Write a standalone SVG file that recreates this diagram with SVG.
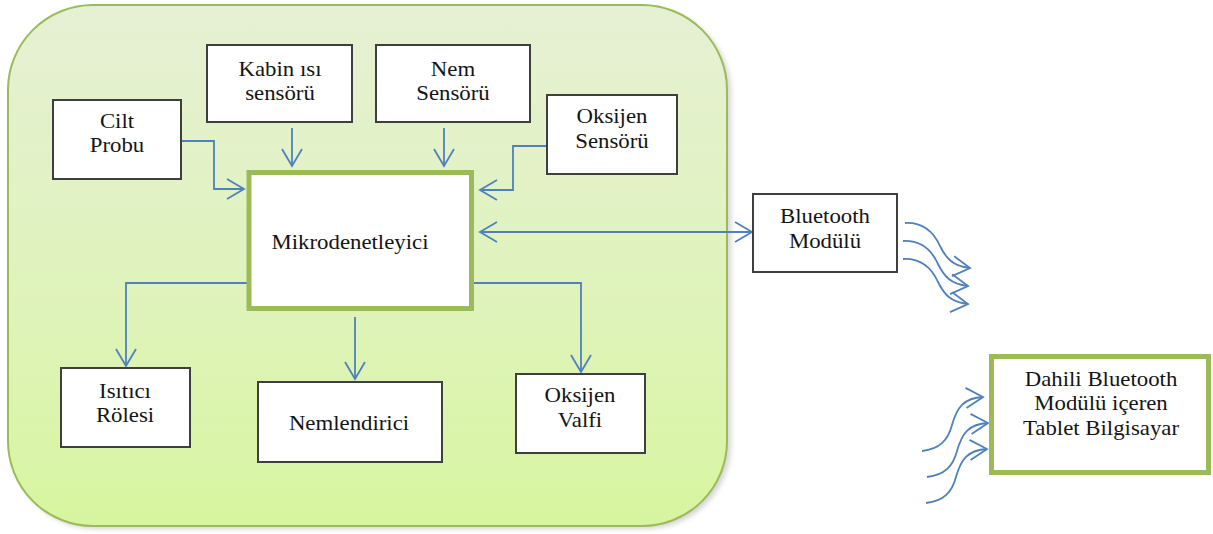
<svg xmlns="http://www.w3.org/2000/svg" width="1213" height="534" viewBox="0 0 1213 534">
  <defs>
    <linearGradient id="bg" x1="0" y1="0" x2="0" y2="1">
      <stop offset="0" stop-color="#e6f0d4"/>
      <stop offset="0.5" stop-color="#e0f3be"/>
      <stop offset="1" stop-color="#d7f5a0"/>
    </linearGradient>
    <filter id="shadow" x="-5%" y="-5%" width="110%" height="110%">
      <feGaussianBlur stdDeviation="2.5"/>
    </filter>
    <marker id="arr" markerUnits="userSpaceOnUse" viewBox="0 0 17 20" refX="17" refY="10" markerWidth="17" markerHeight="20" orient="auto-start-reverse" overflow="visible">
      <path d="M0,0 L17,10 L0,20" fill="none" stroke="#4f81bd" stroke-width="1.8" stroke-linejoin="miter"/>
    </marker>
    <style>
      .box { fill: #ffffff; stroke: #3f3f3f; stroke-width: 2; }
      .gbox { fill: #ffffff; stroke: #9bbb59; stroke-width: 5; }
      .lbl { font-family: "Liberation Serif", "Times New Roman", serif; font-size: 20px; fill: #141414; text-anchor: middle; }
      .con { fill: none; stroke: #4f81bd; stroke-width: 1.8; marker-end: url(#arr); }
      .wave { fill: none; stroke: #4f81bd; stroke-width: 1.8; marker-end: url(#arr); }
    </style>
  </defs>

  <g id="panel">
    <rect x="11" y="8" width="720" height="521" rx="85" ry="85" fill="#8a8a8a" opacity="0.35" filter="url(#shadow)"/>
    <rect x="8" y="5" width="719" height="521" rx="85" ry="85" fill="url(#bg)" stroke="#9bbb59" stroke-width="2"/>
  </g>

  <g id="connectors">
    <path class="con" d="M182,141 H214 V189 H244"/>
    <path class="con" d="M292,128 V166"/>
    <path class="con" d="M444,128 V166"/>
    <path class="con" d="M547,146 H513 V190 H480"/>
    <path class="con" d="M480,232 H752" marker-start="url(#arr)"/>
    <path class="con" d="M247,283 H126 V366"/>
    <path class="con" d="M355,317 V379"/>
    <path class="con" d="M474,283 H581 V372"/>
    <path class="wave" d="M905,223 C925,222 935,235 940,246 C946,258 952,266 970,268"/>
    <path class="wave" d="M903,241 C923,240 933,253 938,264 C944,276 950,284 968,286"/>
    <path class="wave" d="M903,259 C923,258 933,271 938,282 C944,294 950,302 968,304"/>
    <path class="wave" d="M922,451 C940,449 948,440 952,425 C957,407 964,398 983,397"/>
    <path class="wave" d="M927,477 C945,475 953,466 957,451 C962,433 969,424 988,423"/>
    <path class="wave" d="M926,503 C944,501 952,492 956,477 C961,459 968,450 987,449"/>
  </g>

  <g id="cilt-probu">
    <rect class="box" x="53" y="100" width="128" height="79"/>
    <text class="lbl" transform="translate(117,128) scale(1.14,1)"><tspan x="0" y="0">Cilt</tspan><tspan x="0" y="24">Probu</tspan></text>
  </g>
  <g id="kabin-isi">
    <rect class="box" x="207" y="45" width="145" height="77"/>
    <text class="lbl" transform="translate(280,76) scale(1.14,1)"><tspan x="0" y="0">Kabin ısı</tspan><tspan x="0" y="24">sensörü</tspan></text>
  </g>
  <g id="nem-sensoru">
    <rect class="box" x="376" y="45" width="154" height="77"/>
    <text class="lbl" transform="translate(453,76) scale(1.14,1)"><tspan x="0" y="0">Nem</tspan><tspan x="0" y="24">Sensörü</tspan></text>
  </g>
  <g id="oksijen-sensoru">
    <rect class="box" x="547" y="95" width="130" height="79"/>
    <text class="lbl" transform="translate(612,123) scale(1.14,1)"><tspan x="0" y="0">Oksijen</tspan><tspan x="0" y="25">Sensörü</tspan></text>
  </g>
  <g id="mikrodenetleyici">
    <rect class="gbox" x="249" y="172.5" width="222.5" height="136"/>
    <text class="lbl" transform="translate(350,249) scale(1.14,1)">Mikrodenetleyici</text>
  </g>
  <g id="isitici-rolesi">
    <rect class="box" x="61" y="368" width="129" height="79"/>
    <text class="lbl" transform="translate(125,398) scale(1.14,1)"><tspan x="0" y="0">Isıtıcı</tspan><tspan x="0" y="24">Rölesi</tspan></text>
  </g>
  <g id="nemlendirici">
    <rect class="box" x="258" y="382" width="184" height="80"/>
    <text class="lbl" transform="translate(349,430) scale(1.14,1)">Nemlendirici</text>
  </g>
  <g id="oksijen-valfi">
    <rect class="box" x="516" y="374" width="129" height="79"/>
    <text class="lbl" transform="translate(580,402) scale(1.14,1)"><tspan x="0" y="0">Oksijen</tspan><tspan x="0" y="25">Valfi</tspan></text>
  </g>
  <g id="bluetooth-modulu">
    <rect class="box" x="753" y="194" width="144" height="78" stroke="#555555"/>
    <text class="lbl" transform="translate(825,223) scale(1.14,1)"><tspan x="0" y="0">Bluetooth</tspan><tspan x="0" y="25">Modülü</tspan></text>
  </g>
  <g id="tablet">
    <rect class="gbox" x="991.5" y="356.5" width="217" height="116"/>
    <text class="lbl" transform="translate(1101,386) scale(1.14,1)"><tspan x="0" y="0">Dahili Bluetooth</tspan><tspan x="0" y="24.5">Modülü içeren</tspan><tspan x="0" y="49">Tablet Bilgisayar</tspan></text>
  </g>
</svg>
